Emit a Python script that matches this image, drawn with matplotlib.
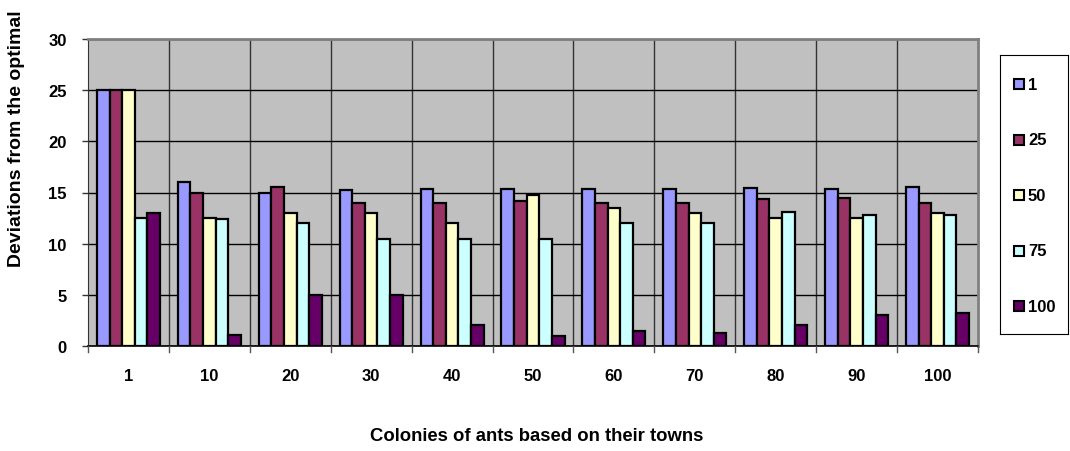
import numpy as np
import matplotlib
matplotlib.use("Agg")
import matplotlib.pyplot as plt
from matplotlib.patches import Rectangle

plt.rcParams['font.family'] = ['Liberation Sans', 'DejaVu Sans']
plt.rcParams['font.weight'] = 'bold'

# Colony sizes on the x axis and one series per town setting
categories = ['1', '10', '20', '30', '40', '50', '60', '70', '80', '90', '100']
series_names = ['1', '25', '50', '75', '100']
s1 = [25, 16, 15, 15.2, 15.3, 15.3, 15.3, 15.35, 15.4, 15.35, 15.5]
s25 = [25, 15, 15.5, 14, 14, 14.2, 14, 14, 14.35, 14.5, 14]
s50 = [25, 12.5, 13, 13, 12, 14.75, 13.45, 13, 12.5, 12.5, 13]
s75 = [12.5, 12.4, 12, 10.5, 10.5, 10.5, 12, 12, 13.05, 12.8, 12.8]
s100 = [13, 1.05, 5, 5, 2.05, 1, 1.5, 1.25, 2.05, 3.05, 3.2]
all_series = [s1, s25, s50, s75, s100]
colors = ['#9999FF', '#993366', '#FFFFCC', '#CCFFFF', '#660066']

fig = plt.figure(figsize=(10.7, 4.52), dpi=100)
ax = fig.add_axes([88 / 1070, 1 - 347 / 452, 890 / 1070, 307 / 452])
ax.set_facecolor('#C0C0C0')

x = np.arange(len(categories))
bar_w = 0.156
offsets = (np.arange(5) - 2) * bar_w
for vals, off, col, name in zip(all_series, offsets, colors, series_names):
    ax.bar(x + off, vals, width=bar_w, color=col, edgecolor='black',
           linewidth=1.6, label=name, zorder=3)

ax.set_xlim(-0.5, len(categories) - 0.5)
ax.set_ylim(0, 30)
ax.set_yticks(range(0, 31, 5))
ax.set_xticks(x)
ax.set_xticklabels(categories, fontsize=12, fontweight='bold')
ax.tick_params(axis='x', length=0, pad=16)
ax.tick_params(axis='y', length=4.3, width=1, labelsize=12, pad=11,
               direction='out', color='#333333')

# grid: horizontal at every 5, vertical at category boundaries
ax.yaxis.grid(True, color='black', linewidth=1, zorder=1)
for b in np.arange(0.5, len(categories) - 0.5, 1):
    ax.axvline(b, color='#333333', linewidth=1, zorder=1)
# tick marks below the x axis at category boundaries
for b in np.arange(-0.5, len(categories), 1):
    ax.plot([b, b], [0, -0.6], color='#555555', linewidth=1,
            clip_on=False, zorder=4)

for side in ['top', 'right']:
    ax.spines[side].set_color('#808080')
    ax.spines[side].set_linewidth(2)
ax.spines['left'].set_color('#333333')
ax.spines['bottom'].set_color('black')
ax.spines['bottom'].set_linewidth(1.2)

fig.text(537 / 1070, 1 - 437 / 452, 'Colonies of ants based on their towns',
         ha='center', va='center', fontsize=13.3, fontweight='bold')
fig.text(17 / 1070, 1 - 139 / 452, 'Deviations from the optimal', rotation=90,
         ha='center', va='center', fontsize=14, fontweight='bold')

# legend in a framed box to the right of the plot
lax = fig.add_axes([1000 / 1070, 1 - 335 / 452, 68 / 1070, 279 / 452])
lax.set_xlim(0, 68)
lax.set_ylim(279, 0)
lax.set_xticks([])
lax.set_yticks([])
for s in lax.spines.values():
    s.set_color('black')
    s.set_linewidth(0.8)
for i, (name, col) in enumerate(zip(series_names, colors)):
    yc = 29 + i * 55.6
    lax.add_patch(Rectangle((14, yc - 5), 10, 10, facecolor=col,
                            edgecolor='black', linewidth=1.5))
    lax.text(28, yc, name, va='center', ha='left', fontsize=12,
             fontweight='bold')

fig.savefig('out.png', dpi=100)
